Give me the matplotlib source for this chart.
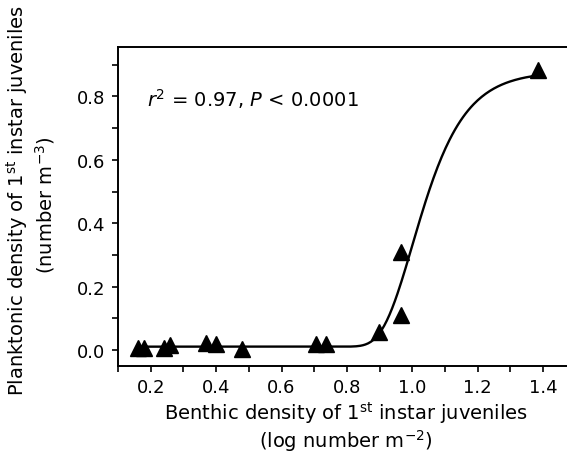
import numpy as np
import matplotlib
matplotlib.use("Agg")
import matplotlib.pyplot as plt
from matplotlib.ticker import MultipleLocator

# -----------------------------------------------
# Data
# -----------------------------------------------
benthic = [0.162, 0.180, 0.241, 0.259, 0.368, 0.399, 0.478,
           0.706, 0.737, 0.898, 0.965, 0.965, 1.384]
planktonic = [0.008, 0.006, 0.008, 0.015, 0.024, 0.018, 0.005,
              0.018, 0.018, 0.058, 0.308, 0.110, 0.884]

# fitted sigmoid (Gompertz) parameters, estimated from the drawn curve
fit_base = 0.011
fit_amp = 0.868
fit_rate = 11.0
fit_mid = 1.0

# -----------------------------------------------
# Style
# -----------------------------------------------
plt.rcParams['font.family'] = ['DejaVu Sans']
plt.rcParams['mathtext.fontset'] = 'dejavusans'

fig = plt.figure(figsize=(5.67, 4.64), dpi=100)
ax = fig.add_axes([118 / 567, 97 / 464, 470 / 567, 319 / 464])

# fitted curve
xs = np.linspace(min(benthic), max(benthic), 300)
ys = fit_base + fit_amp * np.exp(-np.exp(-fit_rate * (xs - fit_mid)))
ax.plot(xs, ys, color='black', lw=1.7, zorder=2)

# observations
ax.plot(benthic, planktonic, linestyle='none', marker='^', ms=11,
        color='black', zorder=3)

ax.set_xlim(0.1, 0.1 + 470 / 327)
ax.set_ylim(-0.05, 0.956)

ax.xaxis.set_minor_locator(MultipleLocator(0.1))
ax.yaxis.set_minor_locator(MultipleLocator(0.1))
ax.set_xticks(np.arange(0.2, 1.41, 0.2))
ax.set_xticklabels(['0.2', '0.4', '0.6', '0.8', '1.0', '1.2', '1.4'])
ax.set_yticks(np.arange(0.0, 0.81, 0.2))
ax.set_yticklabels(['0.0', '0.2', '0.4', '0.6', '0.8'])

ax.tick_params(which='both', direction='out', length=4, width=1.2,
               labelsize=13, color='black')
ax.tick_params(axis='x', pad=5)
ax.tick_params(axis='y', pad=5)
for side in ['left', 'bottom', 'top', 'right']:
    ax.spines[side].set_linewidth(1.4)

ax.text(0.19, 0.795, r'$r^2$ = 0.97, $P$ < 0.0001', fontsize=14,
        va='center', ha='left')

# axis titles
fig.text(346 / 567, 1 - 413 / 464,
         r'Benthic density of 1$^{\mathrm{st}}$ instar juveniles',
         ha='center', va='center', fontsize=14)
fig.text(346 / 567, 1 - 441 / 464, r'(log number m$^{-2}$)',
         ha='center', va='center', fontsize=14)
fig.text(17 / 567, 1 - 200 / 464,
         r'Planktonic density of 1$^{\mathrm{st}}$ instar juveniles',
         ha='center', va='center', rotation=90, fontsize=14)
fig.text(45 / 567, 1 - 205 / 464, r'(number m$^{-3}$)',
         ha='center', va='center', rotation=90, fontsize=14)

fig.savefig('out.png', dpi=100)
